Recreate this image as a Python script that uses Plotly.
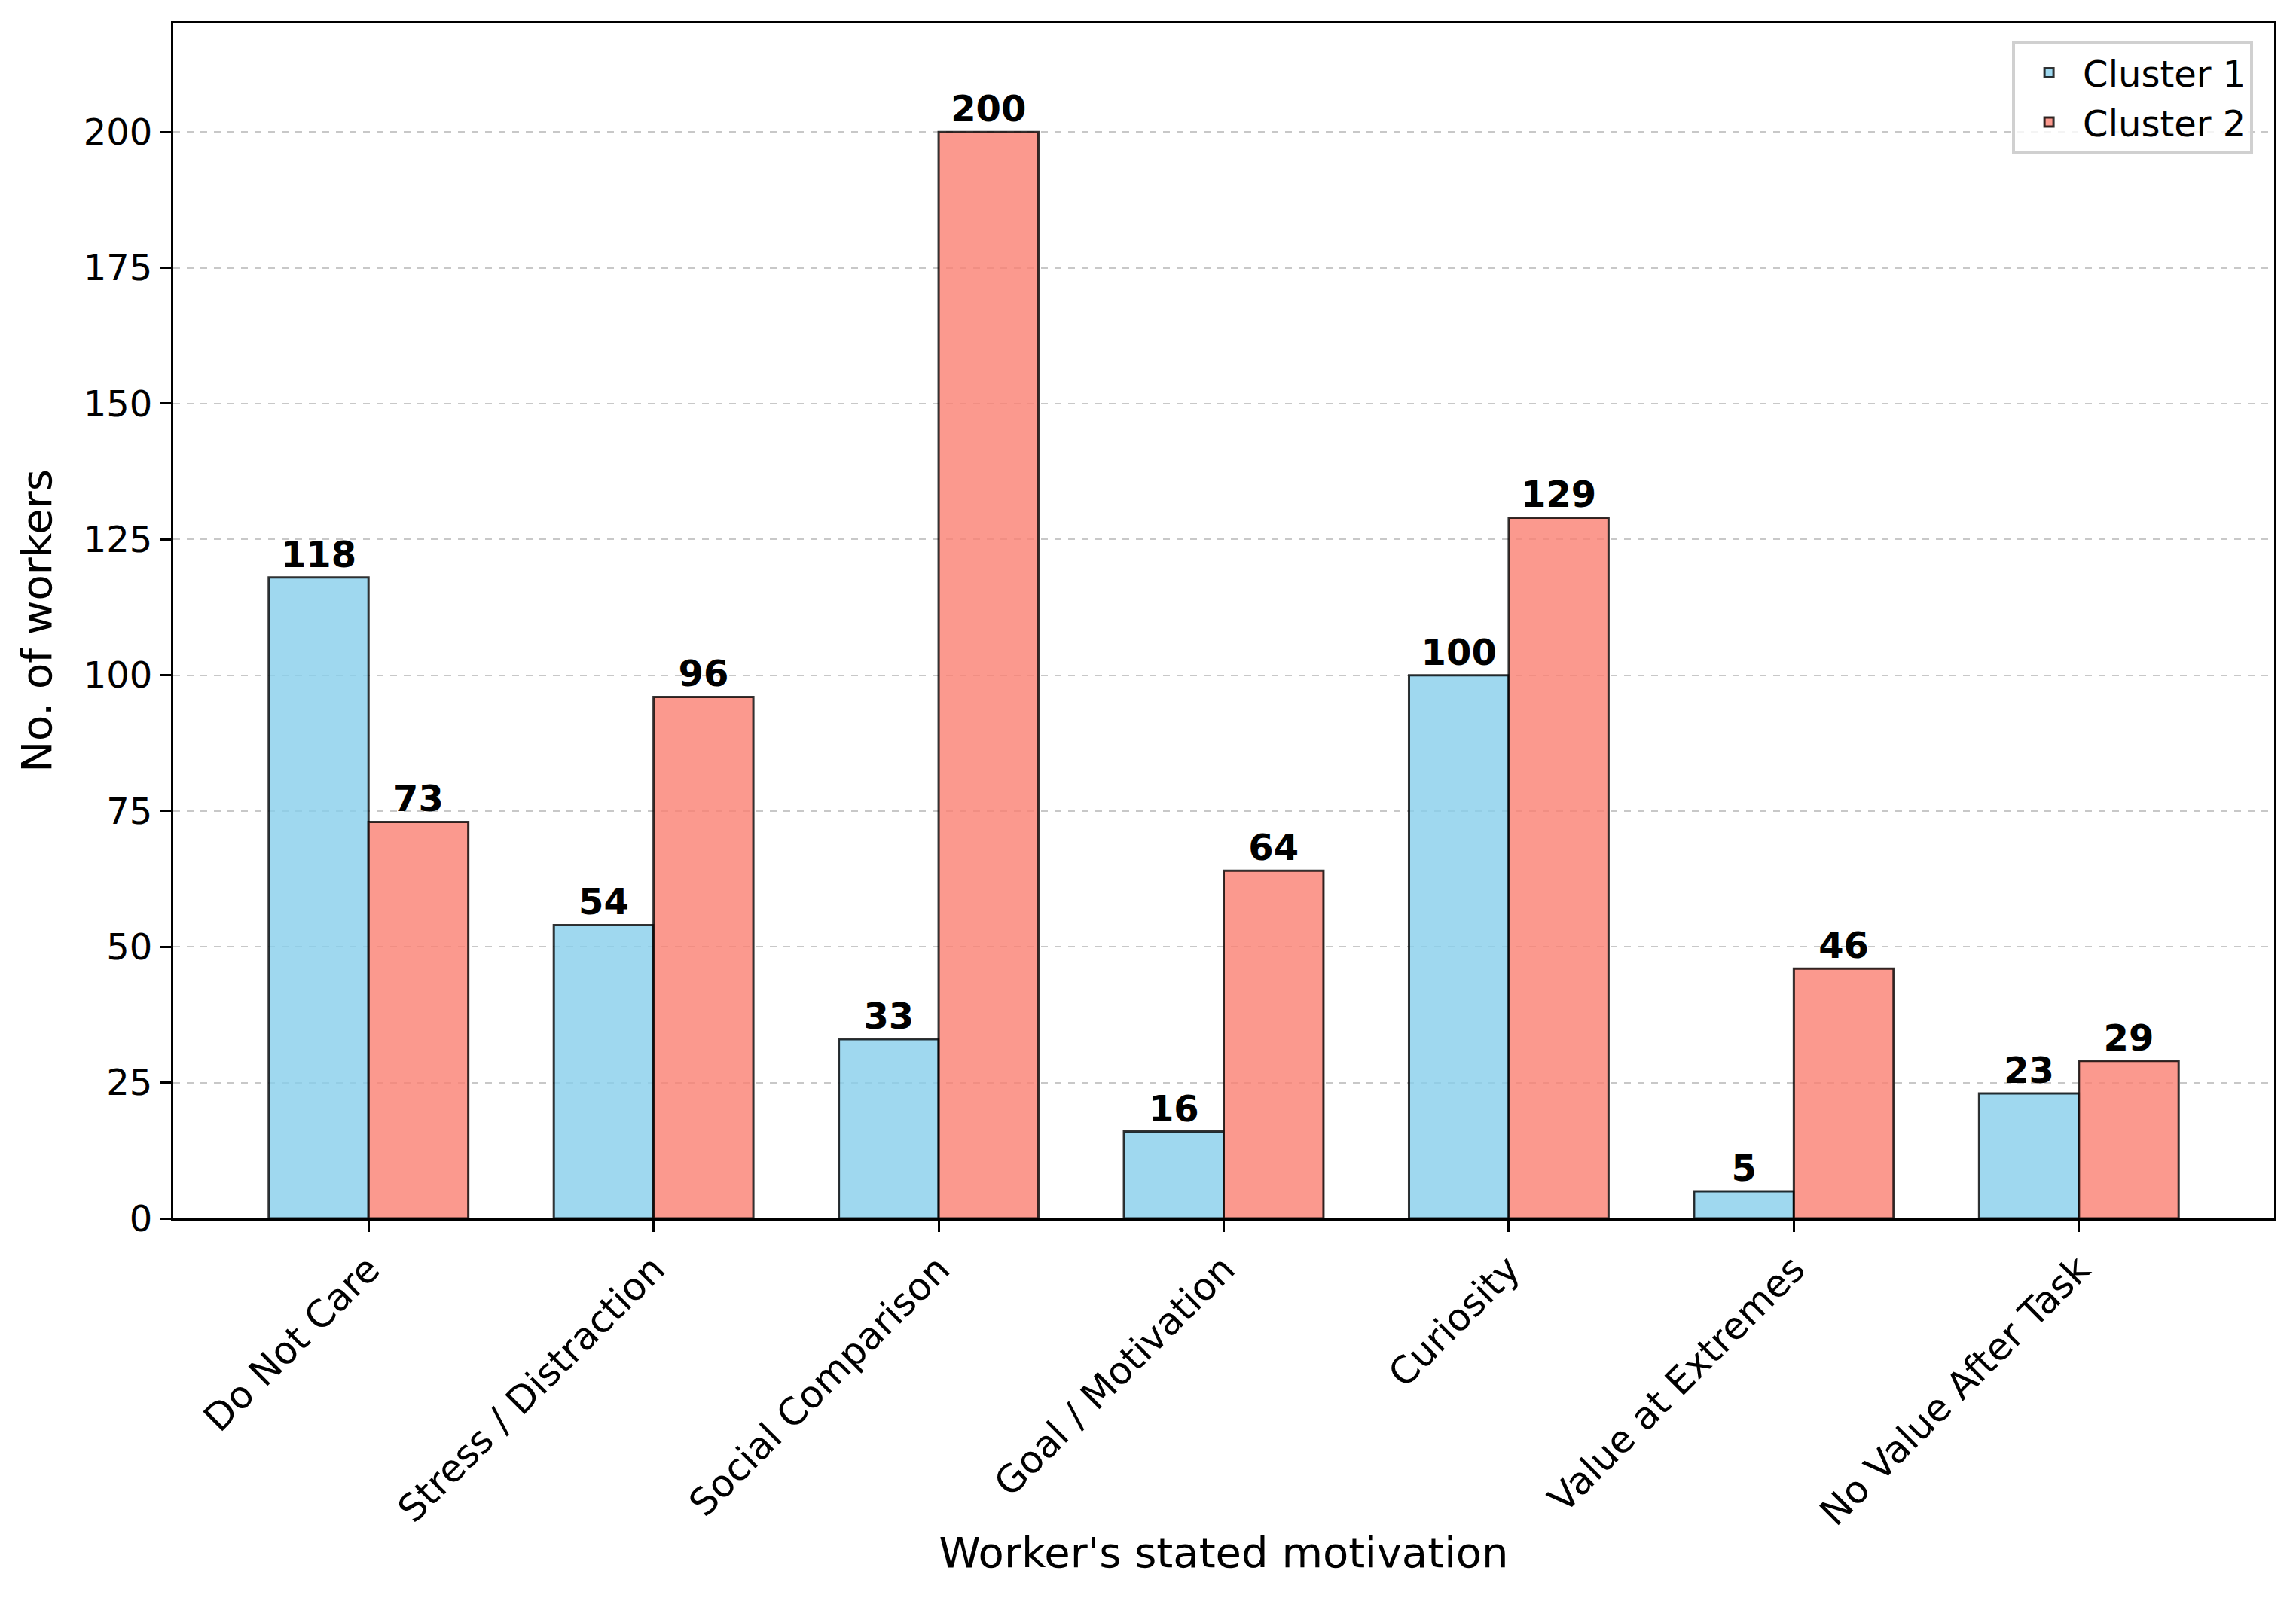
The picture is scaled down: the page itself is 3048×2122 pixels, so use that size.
import plotly.graph_objects as go

categories = ["Do Not Care", "Stress / Distraction", "Social Comparison",
              "Goal / Motivation", "Curiosity", "Value at Extremes", "No Value After Task"]
cluster1 = [118, 54, 33, 16, 100, 5, 23]
cluster2 = [73, 96, 200, 64, 129, 46, 29]
series_names = ["Cluster 1", "Cluster 2"]
y_ticks = [0, 25, 50, 75, 100, 125, 150, 175, 200]

FONT = "DejaVu Sans"
x_pos = list(range(len(categories)))

fig = go.Figure()
for name, vals, color in [(series_names[0], cluster1, "rgba(135,206,235,0.8)"),
                          (series_names[1], cluster2, "rgba(250,128,114,0.8)")]:
    fig.add_trace(go.Bar(
        x=x_pos, y=vals, name=name, legendgroup=name,
        marker=dict(color=color, line=dict(color="rgba(0,0,0,0.8)", width=3)),
        text=[f"<b>{v}</b>" for v in vals],
        textposition="outside", constraintext="none", cliponaxis=False,
        textfont=dict(family=FONT, size=48, color="black"),
    ))

fig.update_layout(
    width=3048, height=2122,
    margin=dict(l=222, r=37, t=23, b=512),
    paper_bgcolor="white", plot_bgcolor="white",
    barmode="group", bargap=0.3, bargroupgap=0,
    font=dict(family=FONT, size=48, color="black"),
    showlegend=True,
    legend=dict(x=0.99, y=0.985, xanchor="right", yanchor="top",
                bordercolor="#d0d0d0", borderwidth=4, bgcolor="rgba(255,255,255,0.8)",
                font=dict(family=FONT, size=48), itemwidth=80,
                tracegroupgap=14, traceorder="normal"),
    xaxis=dict(
        range=[-0.685, 6.685], tickmode="array", tickvals=x_pos, ticktext=categories,
        tickangle=-45, showline=True, linecolor="black", linewidth=3, mirror=True,
        ticks="outside", ticklen=15, tickwidth=3, tickcolor="black", showgrid=False,
        tickfont=dict(family=FONT, size=50), zeroline=False,
        title=dict(text="Worker's stated motivation", font=dict(family=FONT, size=56), standoff=6),
    ),
    yaxis=dict(
        range=[0, 220], tickmode="array", tickvals=y_ticks,
        showline=True, linecolor="black", linewidth=3, mirror=True,
        ticks="outside", ticklen=15, tickwidth=3, tickcolor="black",
        showgrid=True, gridcolor="#c8c8c8", griddash="dash", gridwidth=2,
        zeroline=False, tickfont=dict(family=FONT, size=48),
        title=dict(text="No. of workers", font=dict(family=FONT, size=56), standoff=25),
    ),
)

fig.write_html("out.html")
